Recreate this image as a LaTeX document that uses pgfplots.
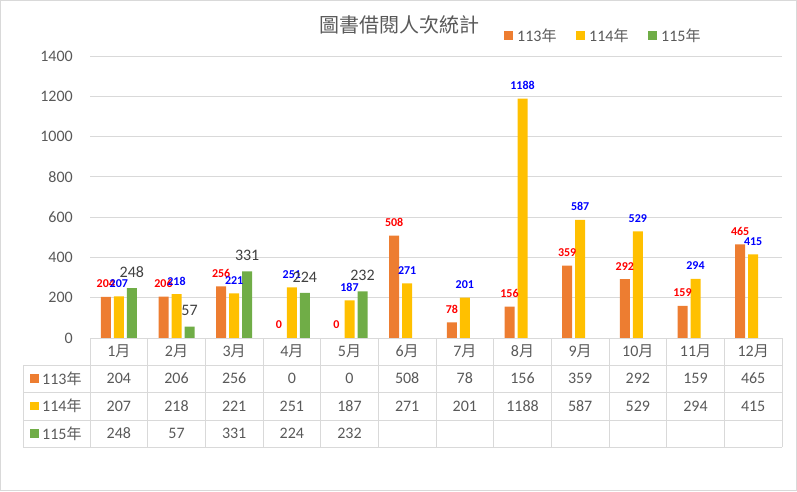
\documentclass[border=0pt]{standalone}
\usepackage{pgfplots}
\pgfplotsset{compat=1.18}
\usepackage{fontspec}
\setmainfont{Carlito}
\newfontfamily\cjk{Noto Sans CJK TC}
\definecolor{c113}{HTML}{ED7D31}
\definecolor{c114}{HTML}{FFC000}
\definecolor{c115}{HTML}{70AD47}
\definecolor{txt}{HTML}{595959}
\definecolor{gridc}{HTML}{D9D9D9}
\definecolor{lbl}{HTML}{404040}
\newcommand{\yue}{{\cjk\fontsize{15}{18}\selectfont 月}}
\newcommand{\nian}{{\cjk\fontsize{15}{18}\selectfont 年}}
\newcommand{\tf}{\fontsize{16}{18}\selectfont}
\begin{document}
\begin{tikzpicture}[x=1pt,y=1pt]
\useasboundingbox (0,0) rectangle (797,491);
\draw[gridc] (0.5,0.5) rectangle (796.5,490.5);
\begin{axis}[
  at={(90pt,153pt)}, anchor=south west,
  scale only axis, width=692pt, height=282pt,
  xmin=-0.5, xmax=11.5, ymin=0, ymax=1400,
  ybar=3pt, bar width=10pt,
  axis line style={draw=none},
  major tick length=0pt,
  ytick={0,200,...,1400},
  ymajorgrids, grid style={gridc, line width=0.8pt},
  xtick={0,...,11},
  xticklabels={1\yue,2\yue,3\yue,4\yue,5\yue,6\yue,7\yue,8\yue,9\yue,10\yue,11\yue,12\yue},
  xticklabel style={anchor=center, yshift=-13.5pt, text=txt, font=\tf},
  yticklabel style={anchor=east, inner sep=0pt, xshift=-17pt, text=txt, font=\tf},
  /pgf/number format/assume math mode=true,
  /pgf/number format/1000 sep={},
  clip=false,
  nodes near coords,
  nodes near coords style={anchor=center},
]
\addplot[fill=c113, draw=none, nodes near coords style={text=red, font=\bfseries\fontsize{12}{12}\selectfont, yshift=13pt}]
  coordinates {(0,204) (1,206) (2,256) (3,0) (4,0) (5,508) (6,78) (7,156) (8,359) (9,292) (10,159) (11,465)};
\addplot[fill=c114, draw=none, nodes near coords style={text=blue, font=\bfseries\fontsize{12}{12}\selectfont, yshift=13pt}]
  coordinates {(0,207) (1,218) (2,221) (3,251) (4,187) (5,271) (6,201) (7,1188) (8,587) (9,529) (10,294) (11,415)};
\addplot[fill=c115, draw=none, nodes near coords style={text=lbl, font=\tf, yshift=16pt}]
  coordinates {(0,248) (1,57) (2,331) (3,224) (4,232)};
\end{axis}
% title and legend
\node[text=txt, font=\cjk\fontsize{20}{22}\selectfont] at (399,466) {圖書借閱人次統計};
\fill[c113] (504,451) rectangle (513,460);
\node[anchor=west, text=txt, font=\tf, inner sep=0pt] at (517,455.5) {113\nian};
\fill[c114] (576,451) rectangle (585,460);
\node[anchor=west, text=txt, font=\tf, inner sep=0pt] at (589,455.5) {114\nian};
\fill[c115] (648,451) rectangle (657,460);
\node[anchor=west, text=txt, font=\tf, inner sep=0pt] at (661,455.5) {115\nian};
% data table
\draw[gridc, line width=0.8pt] (90,153) -- (782,153);
\foreach \yy in {126,98.5,71,44} \draw[gridc, line width=0.8pt] (23.3,\yy) -- (782,\yy);
\draw[gridc, line width=0.8pt] (23.3,126) -- (23.3,44);
\foreach \k in {0,...,12} \draw[gridc, line width=0.8pt] ({90+57.667*\k},153) -- ({90+57.667*\k},44);
\fill[c113] (30,108.25) rectangle (38.5,116.75);
\node[anchor=west, text=txt, font=\tf, inner sep=0pt] at (42,112.5) {113\nian};
\fill[c114] (30,80.75) rectangle (38.5,89.25);
\node[anchor=west, text=txt, font=\tf, inner sep=0pt] at (42,85) {114\nian};
\fill[c115] (30,53.25) rectangle (38.5,61.75);
\node[anchor=west, text=txt, font=\tf, inner sep=0pt] at (42,57.5) {115\nian};
\foreach \v [count=\k from 0] in {204,206,256,0,0,508,78,156,359,292,159,465}
  \node[text=txt, font=\tf] at ({118.83+57.667*\k},112.5) {\v};
\foreach \v [count=\k from 0] in {207,218,221,251,187,271,201,1188,587,529,294,415}
  \node[text=txt, font=\tf] at ({118.83+57.667*\k},85) {\v};
\foreach \v [count=\k from 0] in {248,57,331,224,232}
  \node[text=txt, font=\tf] at ({118.83+57.667*\k},57.5) {\v};
\end{tikzpicture}
\end{document}
